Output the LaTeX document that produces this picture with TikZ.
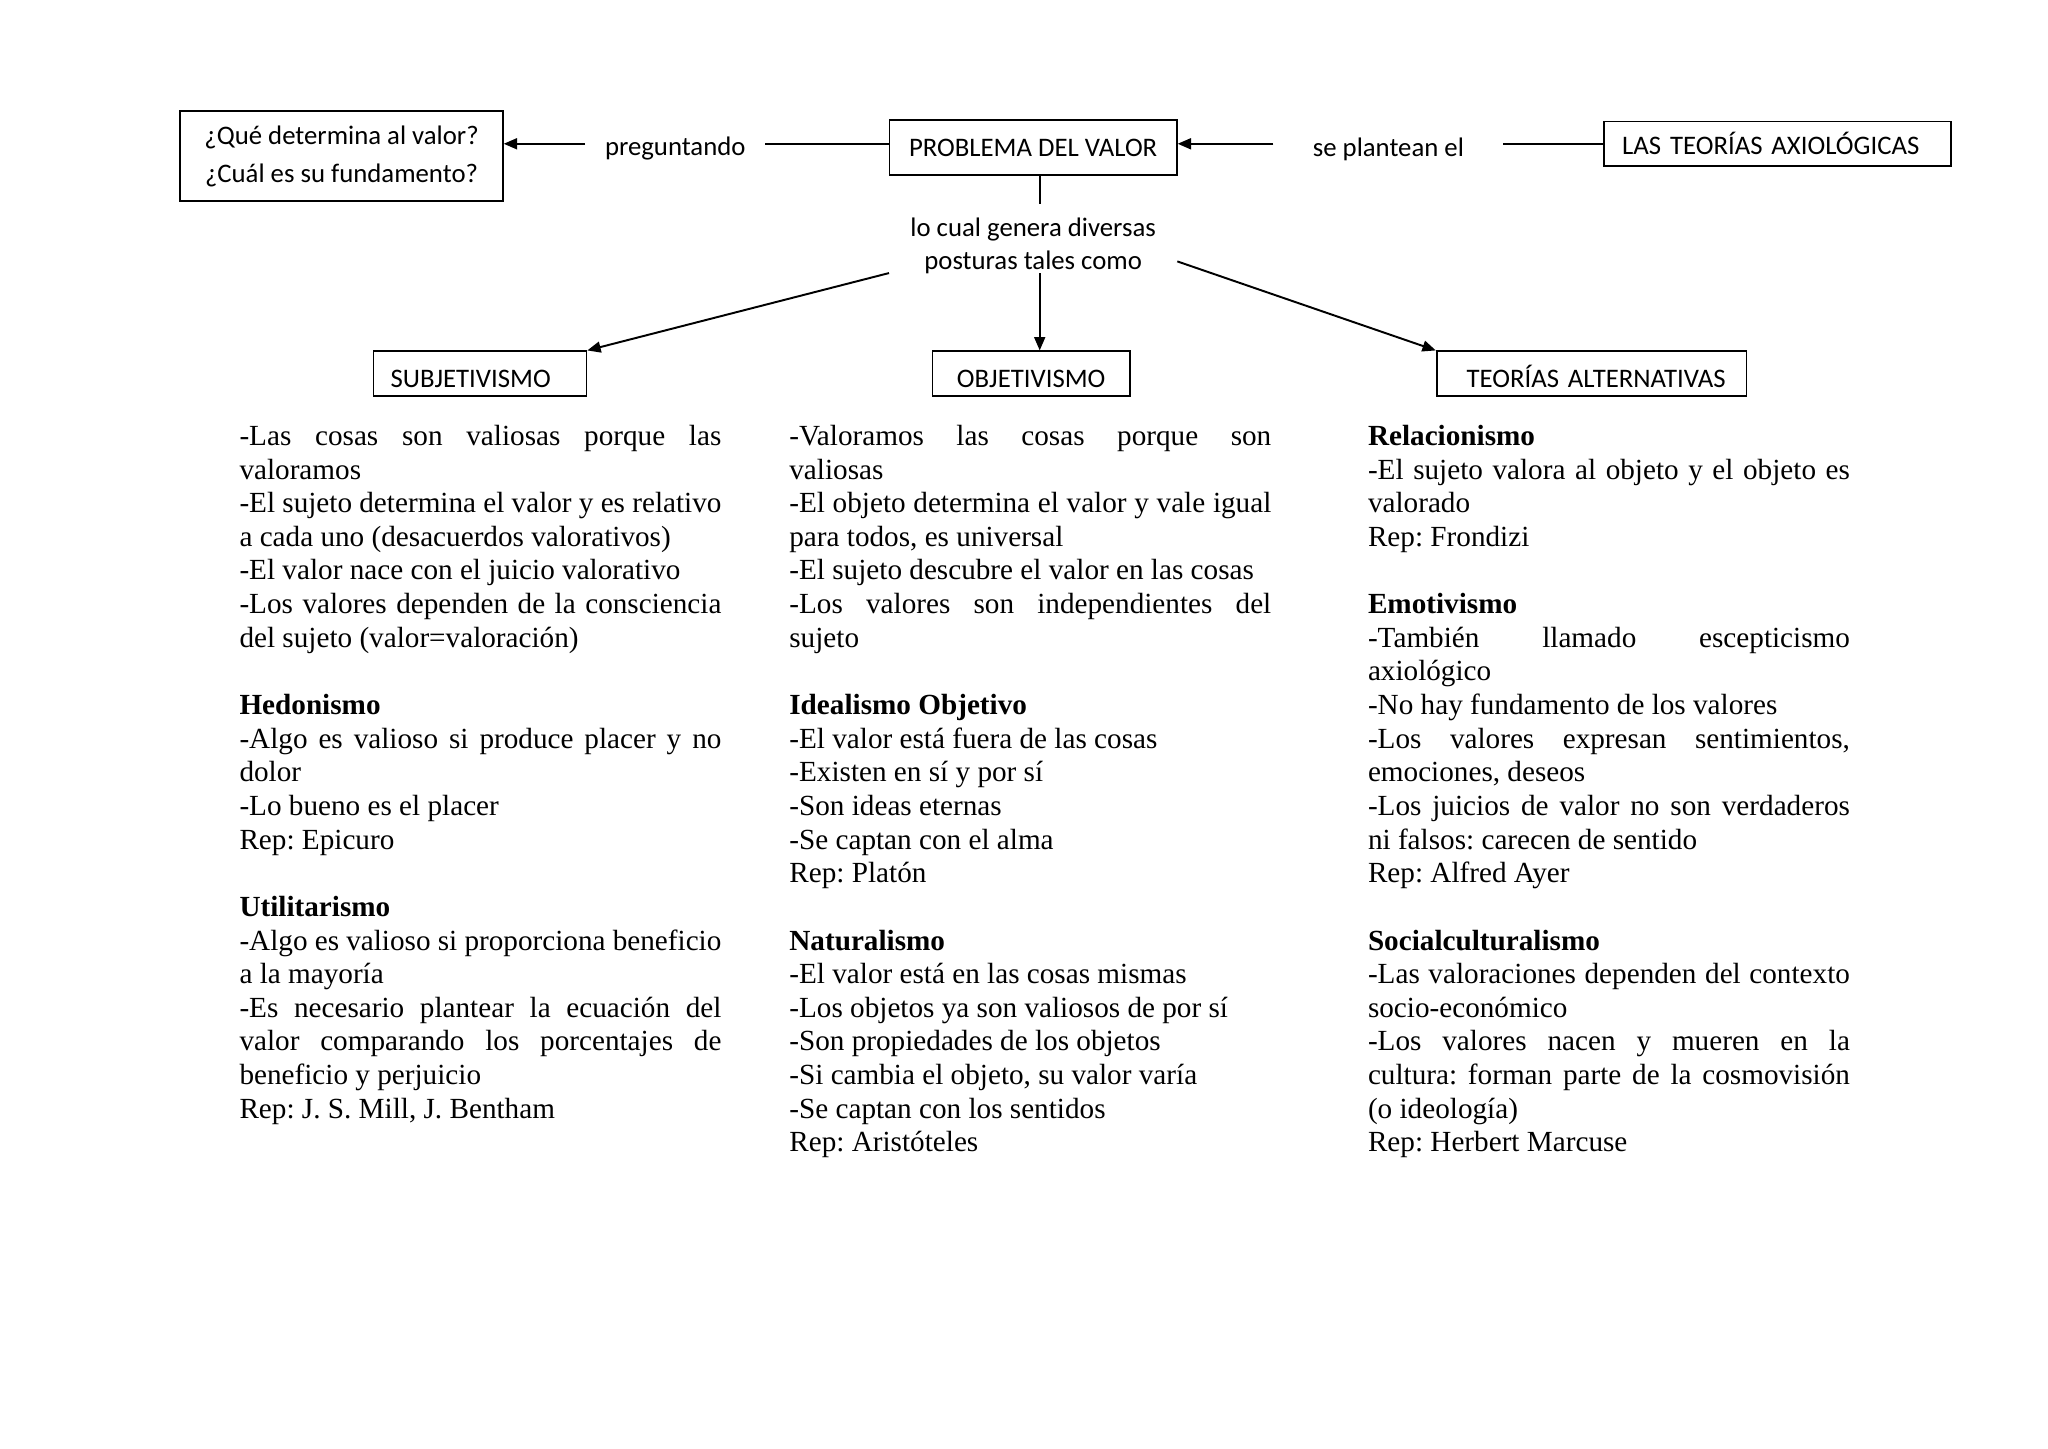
\documentclass[tikz,border=0pt]{standalone}
\usepackage{fontspec}
\setmainfont{Liberation Serif}
\newfontfamily\carl{Carlito}
\usetikzlibrary{arrows.meta,calc}
\frenchspacing
\newlength{\colw}\setlength{\colw}{198.1pt}
\def\wsep{\hspace{0.25em}}
\def\spw#1 #2\spend{#1\ifx\relax#2\relax\else\wsep\spw#2\spend\fi}
\def\jfw#1 #2\spend{#1\ifx\relax#2\relax\else\hfill\jfw#2\spend\fi}
\newcommand{\jl}[1]{\makebox[\colw][s]{\jfw#1 \spend}\\}
\newcommand{\nl}[1]{\spw#1 \spend\\}
\newcommand{\nlz}[1]{\spw#1 \spend}
\newcommand{\hd}[1]{\textbf{\spw#1 \spend}\\}
\newcommand{\bl}{\mbox{}\\}
\newcommand{\tnr}{\fontsize{12pt}{13.83pt}\selectfont}
\begin{document}
\begin{tikzpicture}[x=0.5369pt,y=-0.5369pt,
  boxn/.style={draw, line width=0.7pt, inner sep=0pt, font=\carl\fontsize{11pt}{13pt}\selectfont},
  lbl/.style={inner ysep=0pt, font=\carl\fontsize{11pt}{13pt}\selectfont},
  arr/.style={line width=0.8pt, -{Triangle[length=5.5pt,width=4.5pt]}},
  ln/.style={line width=0.8pt},
  col/.style={anchor=base west, inner sep=0pt, text width=\colw, align=left, font=\tnr}]
\useasboundingbox (0,0) rectangle (1568,1109);
% top row
\node[boxn, minimum width=132.6pt, minimum height=37pt, align=center, font=\carl\fontsize{11pt}{15.6pt}\selectfont] (q) at (261.5,119.5) {¿Qué determina al valor?\\¿Cuál es su fundamento?};
\node[boxn, minimum width=118.1pt, minimum height=22.6pt, text height=7.1pt, text depth=0pt] (prob) at (791,113) {PROBLEMA DEL VALOR};
\node[boxn, text width=142.8pt, text height=13.7pt, text depth=4.6pt, align=left] (las) at (1361,110) {\hspace*{7.5pt}LAS TEORÍAS AXIOLÓGICAS};
\node[lbl, inner xsep=8pt] (preg) at (517,114) {preguntando};
\node[lbl, inner xsep=16pt] (se) at (1063,114) {se plantean el};
\node[lbl, inner sep=0pt, minimum width=118.1pt, align=center, font=\carl\fontsize{11pt}{13.4pt}\selectfont, anchor=south] (lcg) at (791,210) {\rule{0pt}{13.4pt}lo cual genera diversas\\posturas tales como};
% second row
\node[boxn, text width=87.5pt, text height=14.8pt, text depth=3.5pt, align=left] (sub) at (367.5,286) {\hspace*{7pt}SUBJETIVISMO};
\node[boxn, text width=81.1pt, text height=14.8pt, text depth=3.5pt, align=center] (obj) at (789.5,286) {OBJETIVISMO};
\node[boxn, text width=127.3pt, text height=14.8pt, text depth=3.5pt, align=left] (teo) at (1218.5,286) {\hspace*{12.3pt}TEORÍAS ALTERNATIVAS};
% connectors
\draw[arr] ([yshift=2.1pt]preg.west) -- ([yshift=2.1pt]q.east |- preg.west);
\draw[ln] ([yshift=2.1pt]prob.west |- preg.east) -- ([yshift=2.1pt]preg.east);
\draw[arr] ([yshift=2.1pt]se.west) -- ([yshift=2.1pt]prob.east |- se.west);
\draw[ln] ([yshift=2.1pt]las.west |- se.east) -- ([yshift=2.1pt]se.east);
\draw[ln] ([xshift=2.7pt]prob.south) -- ([xshift=2.7pt]prob.south |- lcg.north);
\draw[arr] ([yshift=0.5pt]lcg.south west) -- (sub.north east);
\draw[arr] ([xshift=2.7pt,yshift=0.5pt]lcg.south) -- ([xshift=2.7pt]lcg.south |- obj.north);
\draw[arr] ([yshift=5.3pt]lcg.south east) -- (teo.north west);
% columns
\node[col] (c1) at (183,341) {%
\jl{-Las cosas son valiosas porque las}
\nl{valoramos}
\jl{-El sujeto determina el valor y es relativo}
\nl{a cada uno (desacuerdos valorativos)}
\nl{-El valor nace con el juicio valorativo}
\jl{-Los valores dependen de la consciencia}
\nl{del sujeto (valor=valoración)}
\bl
\hd{Hedonismo}
\jl{-Algo es valioso si produce placer y no}
\nl{dolor}
\nl{-Lo bueno es el placer}
\nl{Rep: Epicuro}
\bl
\hd{Utilitarismo}
\jl{-Algo es valioso si proporciona beneficio}
\nl{a la mayoría}
\jl{-Es necesario plantear la ecuación del}
\jl{valor comparando los porcentajes de}
\nl{beneficio y perjuicio}
\nlz{Rep: J. S. Mill, J. Bentham}};
\node[col] (c2) at (604,341) {%
\jl{-Valoramos las cosas porque son}
\nl{valiosas}
\jl{-El objeto determina el valor y vale igual}
\nl{para todos, es universal}
\nl{-El sujeto descubre el valor en las cosas}
\jl{-Los valores son independientes del}
\nl{sujeto}
\bl
\hd{Idealismo Objetivo}
\nl{-El valor está fuera de las cosas}
\nl{-Existen en sí y por sí}
\nl{-Son ideas eternas}
\nl{-Se captan con el alma}
\nl{Rep: Platón}
\bl
\hd{Naturalismo}
\nl{-El valor está en las cosas mismas}
\nl{-Los objetos ya son valiosos de por sí}
\nl{-Son propiedades de los objetos}
\nl{-Si cambia el objeto, su valor varía}
\nl{-Se captan con los sentidos}
\nlz{Rep: Aristóteles}};
\node[col] (c3) at (1047,341) {%
\hd{Relacionismo}
\jl{-El sujeto valora al objeto y el objeto es}
\nl{valorado}
\nl{Rep: Frondizi}
\bl
\hd{Emotivismo}
\jl{-También llamado escepticismo}
\nl{axiológico}
\nl{-No hay fundamento de los valores}
\jl{-Los valores expresan sentimientos,}
\nl{emociones, deseos}
\jl{-Los juicios de valor no son verdaderos}
\nl{ni falsos: carecen de sentido}
\nl{Rep: Alfred Ayer}
\bl
\hd{Socialculturalismo}
\jl{-Las valoraciones dependen del contexto}
\nl{socio-económico}
\jl{-Los valores nacen y mueren en la}
\jl{cultura: forman parte de la cosmovisión}
\nl{(o ideología)}
\nlz{Rep: Herbert Marcuse}};
\end{tikzpicture}
\end{document}
